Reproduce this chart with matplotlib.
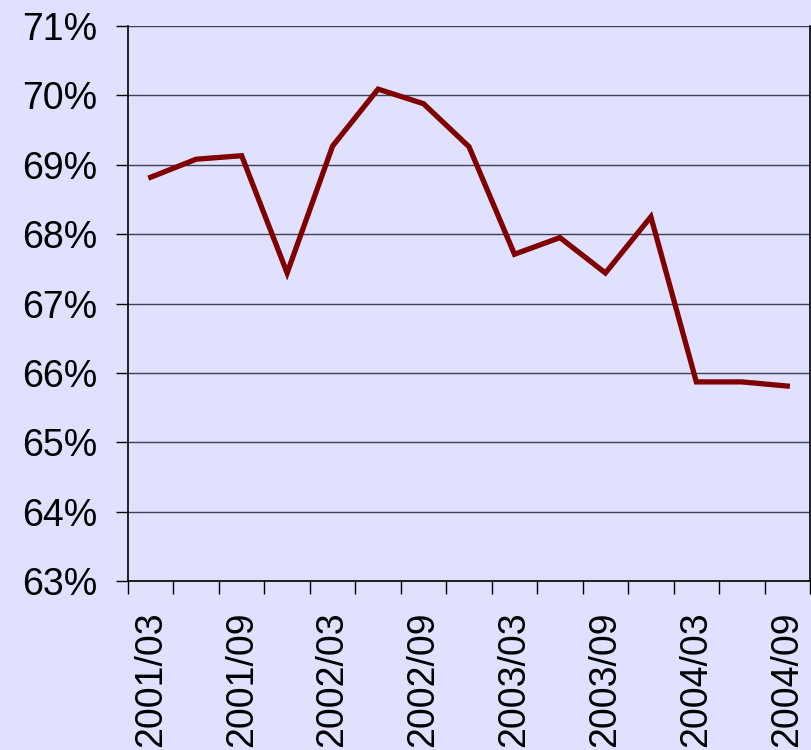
import matplotlib
matplotlib.use("Agg")
import matplotlib.pyplot as plt
import numpy as np

quarters = ["2001/03", "2001/06", "2001/09", "2001/12", "2002/03", "2002/06", "2002/09", "2002/12",
            "2003/03", "2003/06", "2003/09", "2003/12", "2004/03", "2004/06", "2004/09"]
values = [68.82, 69.08, 69.13, 67.44, 69.27, 70.09, 69.88, 69.26,
          67.71, 67.95, 67.44, 68.25, 65.87, 65.87, 65.81]
y_ticks = [63, 64, 65, 66, 67, 68, 69, 70, 71]

plt.rcParams['font.family'] = ['Liberation Sans', 'DejaVu Sans']
bg = '#E0E0FF'
fig = plt.figure(figsize=(8.12, 7.5), dpi=100, facecolor=bg)
ax = fig.add_axes([128/812, 1-581/750, (810-128)/812, (581-26)/750], facecolor=bg)

x = np.arange(len(values))
ax.plot(x, values, color='#800000', lw=3.8, solid_joinstyle='miter', zorder=3)

ax.set_xlim(-0.5, len(values) - 0.5)
ax.set_ylim(63, 71)
ax.set_yticks(y_ticks)
ax.set_yticklabels([f"{v}%" for v in y_ticks], fontsize=27)
ax.yaxis.grid(True, color='#404050', lw=1)
ax.set_axisbelow(True)

ax.set_xticks(x[::2])
ax.set_xticklabels(quarters[::2], rotation=90, fontsize=27, va='top', ha='center')
ax.set_xticks(np.arange(-0.5, len(values), 1), minor=True)
ax.tick_params(axis='x', which='major', length=0, pad=22)
ax.tick_params(axis='x', which='minor', length=9, width=1, color='black')
ax.tick_params(axis='y', which='major', length=9, width=1, pad=13, color='black')

for s in ['left', 'bottom']:
    ax.spines[s].set_color('black')
    ax.spines[s].set_linewidth(1.2)
ax.spines['top'].set_visible(False)
ax.spines['right'].set_color('black')
ax.spines['right'].set_linewidth(1.2)

fig.savefig('out.png', dpi=100, facecolor=bg)
